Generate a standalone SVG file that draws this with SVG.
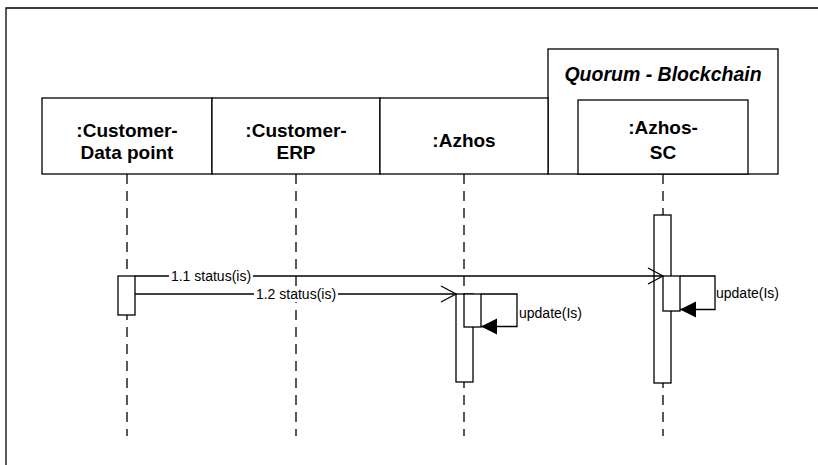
<svg xmlns="http://www.w3.org/2000/svg" width="818" height="465" viewBox="0 0 818 465">
<style>
.box{fill:#fff;stroke:#000;stroke-width:1.3}
.life{stroke:#000;stroke-width:1.3;stroke-dasharray:10,7;fill:none}
.hdr{font-family:"Liberation Sans",Arial,sans-serif;font-weight:bold;font-size:19px;text-anchor:middle;fill:#000}
.frm{font-family:"Liberation Sans",Arial,sans-serif;font-weight:bold;font-style:italic;font-size:19.5px;text-anchor:middle;fill:#000}
.msg{stroke:#000;stroke-width:1.3;fill:none}
.lbl{font-family:"Liberation Sans",Arial,sans-serif;font-size:14px;fill:#000}
.bg{fill:#fff}
</style>
<defs>
<marker id="open" markerWidth="18" markerHeight="18" refX="16" refY="9" orient="auto" markerUnits="userSpaceOnUse">
<path d="M1,1 L16,9 L1,17" fill="none" stroke="#000" stroke-width="1.3"/>
</marker>
<marker id="filled" markerWidth="18" markerHeight="18" refX="16" refY="8" orient="auto" markerUnits="userSpaceOnUse">
<path d="M0,0 L16,8 L0,16 Z" fill="#000"/>
</marker>
</defs>
<rect width="818" height="465" fill="#fff"/>
<path d="M6,465 V8 H818" fill="none" stroke="#000" stroke-width="1.3"/>

<g id="frame-quorum">
<rect class="box" x="548" y="49" width="230" height="125"/>
<text class="frm" x="663" y="81">Quorum - Blockchain</text>
</g>

<g id="lifelines">
<line class="life" x1="127" y1="174" x2="127" y2="436"/>
<line class="life" x1="296" y1="174" x2="296" y2="436"/>
<line class="life" x1="464" y1="174" x2="464" y2="436"/>
<line class="life" x1="663" y1="174" x2="663" y2="436"/>
</g>

<g id="node-customer-datapoint">
<rect class="box" x="42" y="98" width="170" height="76"/>
<text class="hdr" x="127" y="137">:Customer-</text>
<text class="hdr" x="127" y="159">Data point</text>
<rect class="box" x="118" y="276" width="17" height="39"/>
</g>

<g id="node-customer-erp">
<rect class="box" x="212" y="98" width="168" height="76"/>
<text class="hdr" x="296" y="137">:Customer-</text>
<text class="hdr" x="296" y="159">ERP</text>
</g>

<g id="node-azhos">
<rect class="box" x="380" y="98" width="168" height="76"/>
<text class="hdr" x="464" y="147">:Azhos</text>
<rect class="box" x="456" y="294" width="17" height="88"/>
<rect class="box" x="464" y="294" width="17" height="33"/>
</g>

<g id="node-azhos-sc">
<rect class="box" x="578" y="100" width="170" height="74"/>
<text class="hdr" x="663" y="134">:Azhos-</text>
<text class="hdr" x="663" y="159">SC</text>
<rect class="box" x="654" y="215" width="17" height="168"/>
<rect class="box" x="663" y="276" width="17" height="35"/>
</g>

<g id="connectors">
<line class="msg" x1="135" y1="276" x2="663" y2="276" marker-end="url(#open)"/>
<rect class="bg" x="169" y="268" width="84" height="16"/>
<text class="lbl" x="211" y="281" text-anchor="middle">1.1 status(is)</text>
<line class="msg" x1="135" y1="294" x2="456" y2="294" marker-end="url(#open)"/>
<rect class="bg" x="254" y="286" width="84" height="16"/>
<text class="lbl" x="296" y="299" text-anchor="middle">1.2 status(is)</text>
<path class="msg" d="M481,294 H517 V326.5 H481" marker-end="url(#filled)"/>
<text class="lbl" x="519" y="318">update(Is)</text>
<path class="msg" d="M680,276 H715 V309.5 H680" marker-end="url(#filled)"/>
<text class="lbl" x="716" y="298">update(Is)</text>
</g>
</svg>
